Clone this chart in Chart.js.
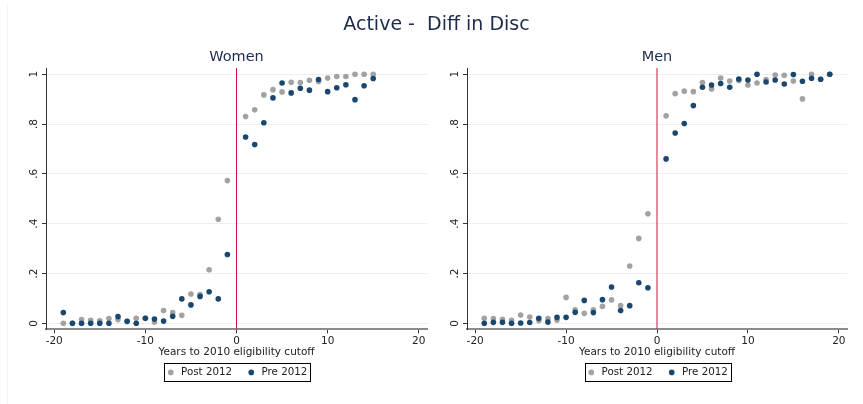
<!DOCTYPE html>
<html>
<head>
<meta charset="utf-8">
<script src="https://cdn.jsdelivr.net/npm/chart.js@4"></script>
<style>
  html, body { margin: 0; padding: 0; background: #ffffff; }
  #page { position: relative; width: 863px; height: 404px; overflow: hidden; background: #ffffff; }
  #frame { position: absolute; left: 7px; top: 5px; width: 0; height: 399px; border-left: 1px solid #f1f3f4; }
  #mainTitle { position: absolute; left: 5px; top: 14px; width: 863px; text-align: center;
    font: 19px 'DejaVu Sans', sans-serif; line-height: 19px; color: #1d2b4c; white-space: pre; }
  .panel { position: absolute; top: 0; height: 404px; }
  #womenBox { left: 0; width: 431px; }
  #menBox { left: 431px; width: 432px; }
</style>
</head>
<body>
<div id="page">
  <div id="frame"></div>
  <div class="panel" id="womenBox"><canvas id="women" width="431" height="404"></canvas></div>
  <div class="panel" id="menBox"><canvas id="men" width="432" height="404"></canvas></div>
  <div id="mainTitle">Active -  Diff in Disc</div>
</div>
<script>
// Years relative to the 2010 eligibility cutoff (no observation at 0)
const womenYears = [-19,-18,-17,-16,-15,-14,-13,-12,-11,-10,-9,-8,-7,-6,-5,-4,-3,-2,-1,
                    1,2,3,4,5,6,7,8,9,10,11,12,13,14,15];
const womenPost2012 = [0.000,0.000,0.015,0.012,0.010,0.019,0.015,0.008,0.020,0.020,0.005,0.051,0.043,0.032,0.118,0.116,0.215,0.418,0.573,
                       0.830,0.857,0.917,0.938,0.929,0.968,0.967,0.976,0.971,0.985,0.991,0.991,1.000,1.000,1.000];
const womenPre2012  = [0.043,0.000,0.000,0.000,0.000,0.000,0.027,0.008,0.000,0.020,0.017,0.009,0.028,0.098,0.074,0.108,0.127,0.098,0.276,
                       0.748,0.718,0.805,0.905,0.965,0.925,0.944,0.936,0.979,0.930,0.946,0.958,0.898,0.954,0.983];

const menYears = [-19,-18,-17,-16,-15,-14,-13,-12,-11,-10,-9,-8,-7,-6,-5,-4,-3,-2,-1,
                  1,2,3,4,5,6,7,8,9,10,11,12,13,14,15,16,17,18,19];
const menPost2012 = [0.020,0.019,0.016,0.012,0.033,0.025,0.011,0.019,0.013,0.104,0.054,0.040,0.054,0.068,0.094,0.071,0.230,0.341,0.440,
                     0.833,0.922,0.932,0.930,0.967,0.941,0.985,0.973,0.975,0.957,0.965,0.979,0.997,0.996,0.973,0.901,1.000,0.980,1.000];
const menPre2012  = [0.000,0.004,0.004,0.000,0.001,0.003,0.020,0.005,0.024,0.024,0.044,0.092,0.043,0.095,0.146,0.051,0.071,0.163,0.143,
                     0.660,0.764,0.802,0.874,0.948,0.957,0.963,0.948,0.981,0.977,1.000,0.969,0.977,0.961,0.999,0.972,0.984,0.980,1.000];

const xTicks = [-20, -10, 0, 10, 20];
const xTickLabels = ['-20', '-10', '0', '10', '20'];
const yTicks = [0, 0.2, 0.4, 0.6, 0.8, 1];
const yTickLabels = ['0', '.2', '.4', '.6', '.8', '1'];
const cutoffYear = 0;
const yMin = -0.024;
const yMax = 1.025;

const FONT = "'DejaVu Sans', sans-serif";
const POST_COLOR = '#a2a2a2';
const PRE_COLOR = '#1a476f';
const TEXT_COLOR = '#222222';
const TITLE_COLOR = '#1d2b4c';
const CUTOFF_COLOR = '#d4103c';

function points(years, values) {
  return years.map((x, i) => ({ x: x, y: values[i] }));
}

// outline around the legend entries
const legendFrame = {
  id: 'legendFrame',
  afterDraw(chart) {
    const boxes = chart.legend && chart.legend.legendHitBoxes;
    if (!boxes || !boxes.length) return;
    const left = Math.min(...boxes.map(b => b.left)) - 1.5;
    const right = Math.max(...boxes.map(b => b.left + b.width)) + 2.5;
    const top = Math.min(...boxes.map(b => b.top)) - 4;
    const bottom = Math.max(...boxes.map(b => b.top + b.height)) + 4;
    const ctx = chart.ctx;
    ctx.save();
    ctx.strokeStyle = '#000000';
    ctx.lineWidth = 1;
    ctx.strokeRect(Math.round(left) + 0.5, Math.round(top) + 0.5, Math.round(right - left), Math.round(bottom - top));
    ctx.restore();
  }
};

function makePanel(canvasId, title, years, post, pre, yAxisWidth, padRight) {
  return new Chart(document.getElementById(canvasId), {
    type: 'scatter',
    data: {
      datasets: [
        { label: 'Post 2012', data: points(years, post), backgroundColor: POST_COLOR,
          pointRadius: 2.8, pointBorderWidth: 0, borderWidth: 0, order: 1 },
        { label: 'Pre 2012', data: points(years, pre), backgroundColor: PRE_COLOR,
          pointRadius: 2.8, pointBorderWidth: 0, borderWidth: 0, order: 0 },
        // eligibility cutoff marker
        { label: 'cutoff', type: 'line', showLine: true, pointRadius: 0,
          data: [{ x: cutoffYear, y: yMin }, { x: cutoffYear, y: yMax }],
          borderColor: CUTOFF_COLOR, backgroundColor: CUTOFF_COLOR, borderWidth: 1, order: 2 }
      ]
    },
    options: {
      responsive: false,
      animation: false,
      events: [],
      layout: { padding: { left: 0, right: padRight, top: 0, bottom: 16.4 } },
      scales: {
        x: {
          type: 'linear', min: -20.9, max: 20.9,
          afterBuildTicks: s => { s.ticks = xTicks.map(v => ({ value: v })); },
          afterFit: s => { s.height = 24; },
          ticks: { font: { family: FONT, size: 10.5 }, color: TEXT_COLOR, padding: 1.4,
                   maxRotation: 0, callback: (v, i) => xTickLabels[i] },
          grid: { drawOnChartArea: false, drawTicks: true, tickLength: 4, tickColor: '#333333' },
          border: { display: true, color: '#8c8c8c', width: 2 },
          title: { display: true, text: 'Years to 2010 eligibility cutoff',
                   font: { family: FONT, size: 10.5 }, color: TEXT_COLOR,
                   padding: { top: 0, bottom: -5.5 } }
        },
        y: {
          type: 'linear', min: yMin, max: yMax,
          afterBuildTicks: s => { s.ticks = yTicks.map(v => ({ value: v })); },
          afterFit: s => { s.width = yAxisWidth; },
          ticks: { font: { family: FONT, size: 10.5 }, color: TEXT_COLOR, padding: 2.7,
                   minRotation: 90, maxRotation: 90, crossAlign: 'center',
                   callback: (v, i) => yTickLabels[i] },
          grid: { color: '#e8f0f2', lineWidth: 1, tickLength: 4, tickColor: '#333333' },
          border: { display: true, color: '#333333', width: 1 }
        }
      },
      plugins: {
        tooltip: { enabled: false },
        title: { display: true, text: title, fullSize: false, color: TITLE_COLOR,
                 font: { family: FONT, size: 14.5, weight: 'normal' },
                 padding: { top: 48.3, bottom: 2.3 } },
        legend: {
          display: true, position: 'bottom', fullSize: false,
          labels: {
            font: { family: FONT, size: 10.3 }, color: TEXT_COLOR,
            usePointStyle: true, pointStyle: 'circle', boxHeight: 4, padding: 14,
            filter: item => item.datasetIndex < 2,
            sort: (a, b) => a.datasetIndex - b.datasetIndex
          }
        }
      }
    },
    plugins: [legendFrame]
  });
}

makePanel('women', 'Women', womenYears, womenPost2012, womenPre2012, 46, 4);
makePanel('men', 'Men', menYears, menPost2012, menPre2012, 36, 16);
</script>
</body>
</html>
